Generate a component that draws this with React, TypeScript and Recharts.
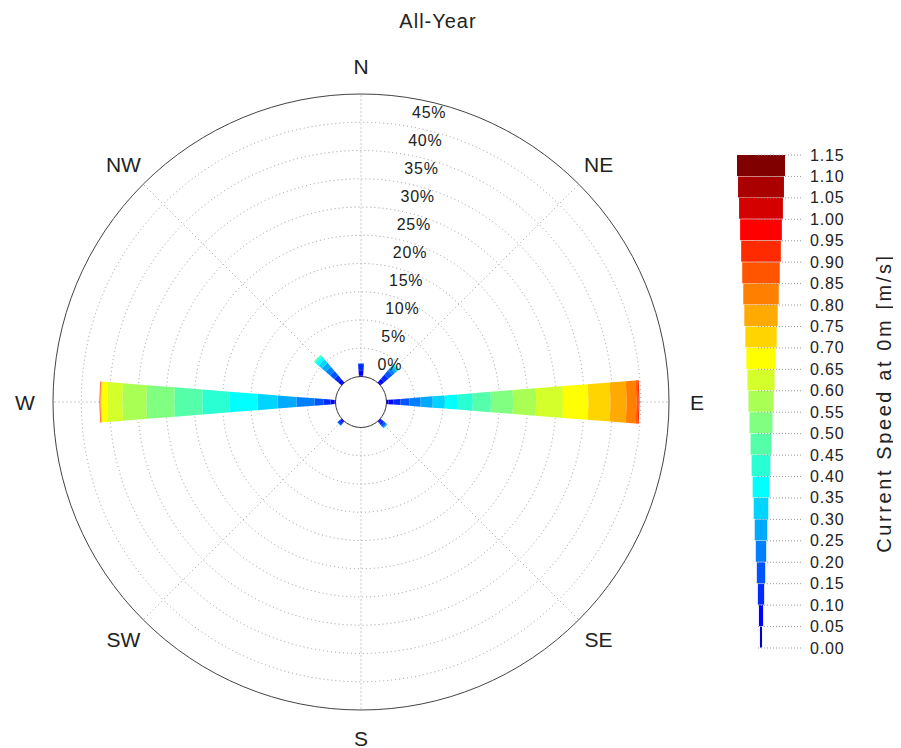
import {
  RadialBarChart,
  RadialBar,
  PolarGrid,
  PolarAngleAxis,
  PolarRadiusAxis,
  BarChart,
  Bar,
  Cell,
  XAxis,
  YAxis,
} from "recharts"

const FONT = "'Liberation Sans', Arial, sans-serif"

// compass sectors, clockwise from north
const directions = ["N", "NE", "E", "SE", "S", "SW", "W", "NW"]
const bearings = [0, 45, 90, 135, 180, 225, 270, 315]

// lower edge of each current-speed bin [m/s]
const speedBins = [
  0.0, 0.05, 0.1, 0.15, 0.2, 0.25, 0.3, 0.35, 0.4, 0.45, 0.5, 0.55,
  0.6, 0.65, 0.7, 0.75, 0.8, 0.85, 0.9, 0.95, 1.0, 1.05, 1.1,
]

const speedColors = [
  "#0000d4", "#0000ff", "#002aff", "#0055ff", "#0080ff", "#00aaff", "#00d4ff", "#00ffff",
  "#2affd4", "#55ffaa", "#80ff80", "#aaff55", "#d4ff2a", "#ffff00", "#ffd400", "#ffaa00",
  "#ff8000", "#ff5500", "#ff2a00", "#ff0000", "#d40000", "#aa0000", "#800000",
]

// occurrence [%] per speed bin, one array per direction
const northPct = [0.2, 0.8, 1.2, 0.1, 0, 0, 0, 0, 0, 0, 0, 0, 0, 0, 0, 0, 0, 0, 0, 0, 0, 0, 0]
const northEastPct = [0.2, 0.7, 1.0, 0.9, 0.6, 0.4, 0.3, 0.2, 0.1, 0.05, 0, 0, 0, 0, 0, 0, 0, 0, 0, 0, 0, 0, 0]
const eastPct = [0.35, 0.9, 1.25, 1.6, 1.95, 2.15, 2.15, 2.3, 2.65, 3.2, 3.9, 4.1, 4.8, 4.45, 3.9, 2.85, 1.75, 0.35, 0.2, 0, 0, 0, 0]
const southEastPct = [0.1, 0.3, 0.5, 0.4, 0.2, 0.1, 0, 0.05, 0, 0, 0, 0, 0, 0, 0, 0, 0, 0, 0, 0, 0, 0, 0]
const southPct = [0, 0, 0, 0, 0, 0, 0, 0, 0, 0, 0, 0, 0, 0, 0, 0, 0, 0, 0, 0, 0, 0, 0]
const southWestPct = [0.1, 0.3, 0.4, 0.2, 0, 0, 0, 0.05, 0, 0, 0, 0, 0, 0, 0, 0, 0, 0, 0, 0, 0, 0, 0]
const westPct = [0.18, 0.7, 1.25, 1.6, 3.2, 3.35, 3.55, 4.95, 4.8, 4.95, 4.95, 4.25, 2.65, 1.05, 0.1, 0.08, 0.06, 0.05, 0.04, 0.03, 0, 0, 0]
const northWestPct = [0.2, 0.6, 0.9, 1.0, 1.0, 0.9, 0.8, 0.6, 0.3, 0.15, 0.05, 0, 0, 0, 0, 0, 0, 0, 0, 0, 0, 0, 0]

const byDirection = [northPct, northEastPct, eastPct, southEastPct, southPct, southWestPct, westPct, northWestPct]

const radiusTicks = [0, 5, 10, 15, 20, 25, 30, 35, 40, 45]

const roseData = directions.map((dir, d) => {
  const row: Record<string, any> = { dir, bearing: bearings[d] }
  speedBins.forEach((_, i) => {
    row[`s${i}`] = byDirection[d][i]
  })
  return row
})

// colour key: width of each band grows with its upper speed
const keyData = speedBins
  .map((lo, i) => {
    const hi = lo + 0.05
    return { upper: hi.toFixed(2), lower: lo.toFixed(2), range: [-hi / 2, hi / 2], color: speedColors[i] }
  })
  .reverse()

const INNER = 25.5
const OUTER = 308
const KEY_H = 493
const BAND_H = KEY_H / speedBins.length

function DirectionTick(props: any) {
  const { x, y, payload } = props
  const name = directions[bearings.indexOf(Number(payload.value))]
  return (
    <text x={x} y={y} textAnchor="middle" dominantBaseline="central" fontSize={21} fill="#222" fontFamily={FONT}>
      {name}
    </text>
  )
}

function PercentTick(props: any) {
  const { x, y, payload } = props
  return (
    <text x={x + 13} y={y - 12} textAnchor="start" dominantBaseline="central" fontSize={16} letterSpacing={0.8} fill="#222" fontFamily={FONT}>
      {payload.value}%
    </text>
  )
}

function SpeedLabel({ x, y, text }: { x: number; y: number; text: string }) {
  return (
    <g>
      <line x1={x - 27} x2={x + 18} y1={y} y2={y} stroke="#999" strokeDasharray="1 2" />
      <text x={x + 25} y={y} textAnchor="start" dominantBaseline="central" fontSize={16} letterSpacing={0.8} fill="#222" fontFamily={FONT}>
        {text}
      </text>
    </g>
  )
}

function SpeedTick(props: any) {
  const { x, y, payload, index } = props
  const top = y - BAND_H / 2
  const last = index === keyData.length - 1
  return (
    <g>
      <SpeedLabel x={x} y={top} text={payload.value} />
      {last && <SpeedLabel x={x} y={y + BAND_H / 2} text={keyData[index].lower} />}
    </g>
  )
}

export default function App() {
  return (
    <div style={{ position: "relative", width: 885, height: 740, fontFamily: FONT }}>
      <div
        style={{
          position: "absolute",
          left: 330,
          top: 2,
          width: 200,
          textAlign: "center",
          fontSize: 20,
          letterSpacing: 1,
          color: "#222",
        }}
      >
        All-Year
      </div>

      <div style={{ position: "absolute", left: 0, top: 0 }}>
        <RadialBarChart
          width={720}
          height={740}
          cx={353}
          cy={394}
          innerRadius={INNER}
          outerRadius={OUTER}
          startAngle={90}
          endAngle={-270}
          data={roseData}
          layout="centric"
          barSize={9}
          margin={{ top: 0, right: 0, bottom: 0, left: 0 }}
        >
          <PolarAngleAxis
            type="number"
            dataKey="bearing"
            domain={[0, 360]}
            ticks={bearings}
            tickSize={28}
            tickLine={false}
            axisLineType="circle"
            axisLine={{ stroke: "#444" }}
            tick={<DirectionTick />}
          />
          <PolarRadiusAxis
            type="number"
            domain={[0, 50]}
            ticks={radiusTicks}
            angle={82.2}
            axisLine={false}
            tickLine={false}
            tick={<PercentTick />}
          />
          {speedBins.map((lo, i) => (
            <RadialBar
              key={lo}
              dataKey={`s${i}`}
              stackId="speed"
              fill={speedColors[i]}
              barSize={9}
              isAnimationActive={false}
            />
          ))}
          <PolarGrid gridType="circle" stroke="#999" strokeDasharray="1 3" />
          <PolarGrid gridType="circle" polarRadius={[INNER]} polarAngles={[]} radialLines={false} stroke="#444" />
        </RadialBarChart>
      </div>

      <div style={{ position: "absolute", left: 729, top: 137 }}>
        <BarChart
          width={118}
          height={KEY_H + 20}
          layout="vertical"
          data={keyData}
          barCategoryGap={0}
          margin={{ top: 10, right: 0, bottom: 10, left: 0 }}
        >
          <XAxis type="number" domain={[-0.575, 0.575]} hide />
          <YAxis
            type="category"
            dataKey="upper"
            orientation="right"
            width={70}
            interval={0}
            axisLine={false}
            tickLine={false}
            tickSize={0}
            tickMargin={0}
            tick={<SpeedTick />}
          />
          <Bar dataKey="range" isAnimationActive={false}>
            {keyData.map((k) => (
              <Cell key={k.upper} fill={k.color} />
            ))}
          </Bar>
        </BarChart>
      </div>

      <div
        style={{
          position: "absolute",
          left: 876 - 160,
          top: 395 - 12,
          width: 320,
          height: 24,
          lineHeight: "24px",
          textAlign: "center",
          fontSize: 20,
          letterSpacing: 2.6,
          color: "#222",
          transform: "rotate(-90deg)",
          whiteSpace: "nowrap",
        }}
      >
        Current Speed at 0m [m/s]
      </div>
    </div>
  )
}
